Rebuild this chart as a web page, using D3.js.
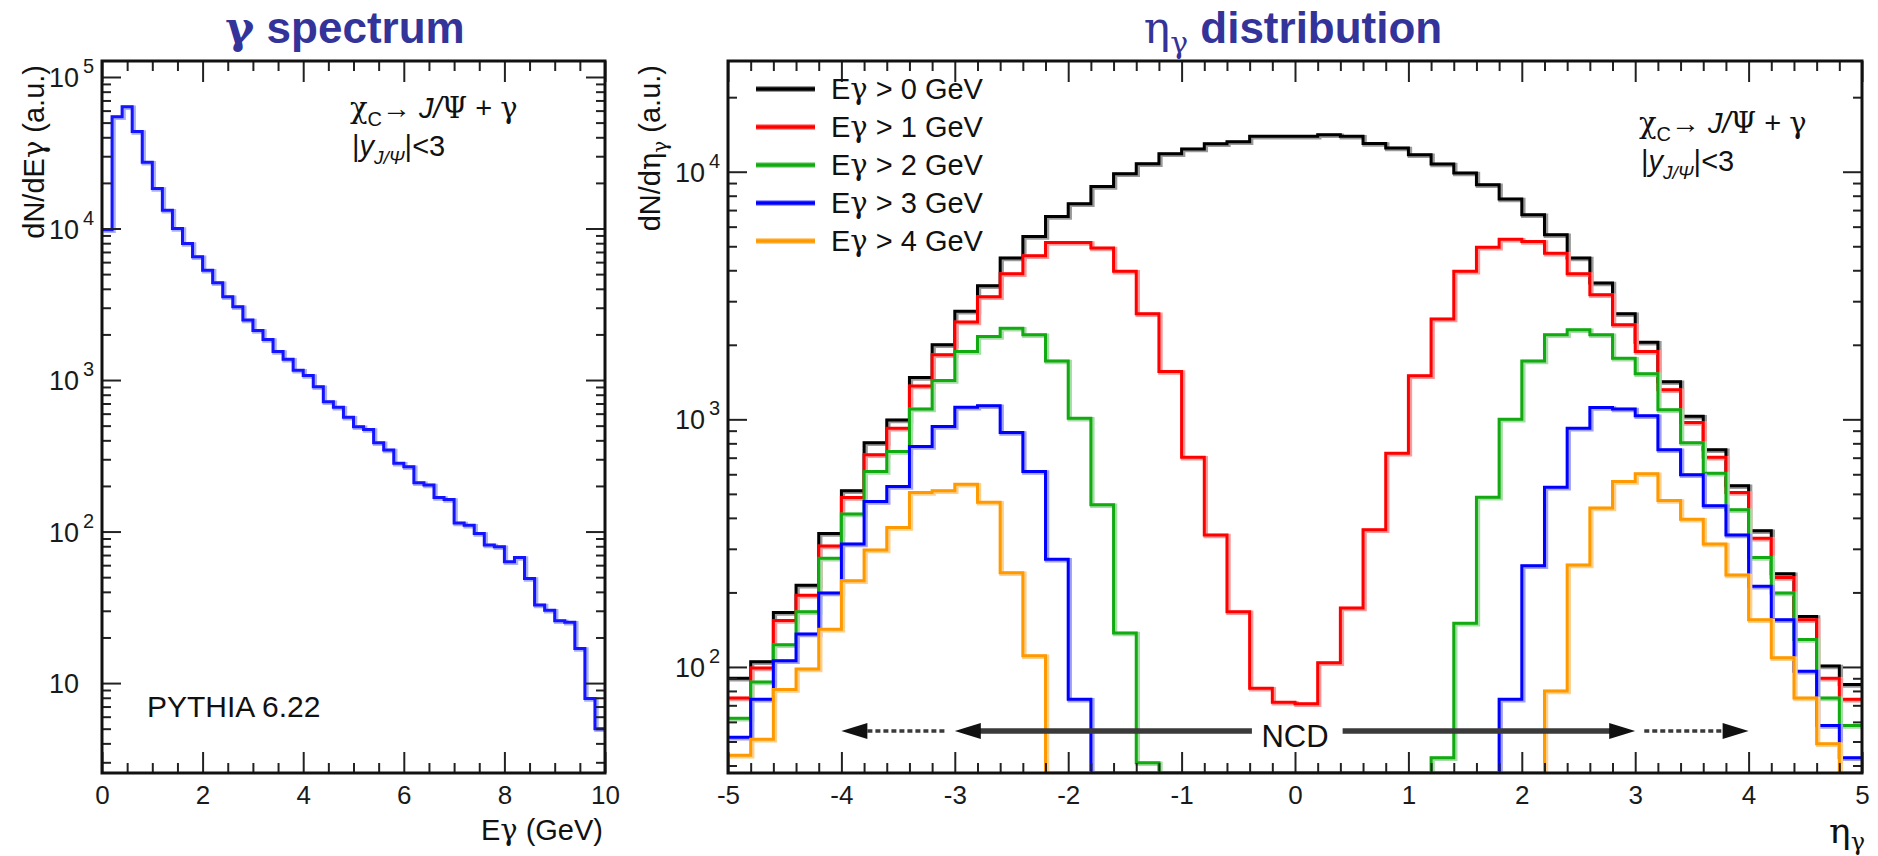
<!DOCTYPE html>
<html>
<head>
<meta charset="utf-8">
<script src="https://cdn.jsdelivr.net/npm/d3@7"></script>
<style>
  body { margin: 0; background: #fff; }
  svg text { font-family: "Liberation Sans", Arial, Helvetica, sans-serif; }
  .gr { font-family: "DejaVu Serif", "Liberation Serif", serif; }
</style>
</head>
<body>
<svg id="chart" width="1878" height="856"></svg>
<script>
// ---------- data ----------
// photon energy spectrum, 0.2 GeV bins from 0 to 10 GeV
const eLow = 0, eBinWidth = 0.2;
const spectrum = [9800, 54700, 63700, 43600, 27400, 18400, 13200, 10000, 7950, 6500,
  5300, 4380, 3540, 3050, 2490, 2120, 1850, 1540, 1370, 1160,
  1070, 904, 719, 661, 567, 492, 472, 386, 345, 282,
  268, 210, 203, 168, 163, 114, 110, 97, 81.5, 79.4,
  63.2, 67.5, 49, 32.7, 30.3, 25.8, 25.2, 16.9, 7.9, 5.0];

// photon pseudorapidity, 0.2 bins from -5 to 5 (0 = empty bin)
const etaLow = -5, etaBinWidth = 0.2;
const etaE0 = [90, 105, 166, 214, 346, 515, 805, 995, 1475, 2000,
  2730, 3460, 4480, 5480, 6600, 7430, 8720, 9820, 10770, 11830,
  12360, 12980, 13200, 13900, 13900, 13900, 14100, 13900, 13000, 12470,
  11720, 10740, 9880, 8860, 7760, 6700, 5560, 4480, 3550, 2670,
  2050, 1420, 1030, 753, 539, 355, 238, 160, 101, 85];
const etaE1 = [75, 99, 154, 195, 308, 483, 719, 921, 1365, 1823,
  2470, 3130, 3870, 4580, 5180, 5180, 4920, 3960, 2670, 1560,
  703, 341, 167, 82, 72, 71, 104, 173, 358, 730,
  1500, 2540, 3960, 4960, 5340, 5230, 4690, 3870, 3185, 2410,
  1880, 1316, 970, 703, 506, 331, 230, 155, 90, 74];
const etaE2 = [62, 87, 123, 167, 275, 415, 615, 741, 1100, 1435,
  1880, 2160, 2335, 2195, 1720, 1010, 452, 137, 41, 0,
  0, 0, 0, 0, 0, 0, 0, 0, 0, 0,
  0, 43, 150, 485, 1000, 1720, 2195, 2300, 2195, 1766,
  1527, 1092, 805, 606, 431, 277, 199, 129, 75, 58];
const etaE3 = [52, 74, 106, 136, 199, 314, 466, 536, 776, 935,
  1120, 1135, 885, 615, 272, 74, 0, 0, 0, 0,
  0, 0, 0, 0, 0, 0, 0, 0, 0, 0,
  0, 0, 0, 0, 74, 256, 532, 921, 1116, 1100,
  1033, 753, 597, 448, 341, 212, 155, 96, 58, 43];
const etaE4 = [44, 51, 81, 98, 142, 223, 297, 366, 506, 515,
  547, 463, 240, 111, 0, 0, 0, 0, 0, 0,
  0, 0, 0, 0, 0, 0, 0, 0, 0, 0,
  0, 0, 0, 0, 0, 0, 80, 258, 438, 561,
  603, 470, 395, 314, 235, 155, 109, 75, 49, 0];

const thresholds = [0, 1, 2, 3, 4];
const eTicks = [0, 2, 4, 6, 8, 10];
const etaTicks = [-5, -4, -3, -2, -1, 0, 1, 2, 3, 4, 5];
const ncdRange = [-3, 3], ncdExtended = [-4, 4];

// ---------- layout ----------
const left = { x0: 102, x1: 605, y0: 61, y1: 773 };
const right = { x0: 728, x1: 1862, y0: 61, y1: 773 };
const titleColor = "#333399";
const lineColors = ["#000000", "#ff0000", "#11aa11", "#0000ff", "#ff9900"];
const ghostColors = ["#9a9a9a", "#ff9a9a", "#a6dca6", "#a0a0ff", "#ffcf8c"];

const svg = d3.select("#chart");

const xE = d3.scaleLinear().domain([0, 10]).range([left.x0, left.x1]);
const yE = d3.scaleLog().domain([2.55, 1.275e5]).range([left.y1, left.y0]).clamp(true);
const xEta = d3.scaleLinear().domain([-5, 5]).range([right.x0, right.x1]);
const yEta = d3.scaleLog().domain([37.3, 2.8e4]).range([right.y1, right.y0]).clamp(true);

function histPath(x, y, lo, w, vals) {
  const pts = vals.map((v, i) => [lo + i * w, v]);
  pts.push([lo + vals.length * w, vals[vals.length - 1]]);
  return d3.line()
    .x(d => x(d[0]))
    .y(d => d[1] > 0 ? y(d[1]) : y.range()[0])
    .curve(d3.curveStepAfter)(pts);
}

function logMajor(y) {
  const [a, b] = y.domain(), out = [];
  for (let e = Math.ceil(Math.log10(a)); e <= Math.floor(Math.log10(b)); e++) out.push(10 ** e);
  return out;
}
function logMinor(y) {
  const [a, b] = y.domain(), out = [];
  for (let e = Math.floor(Math.log10(a)); e <= Math.floor(Math.log10(b)); e++)
    for (let m = 2; m <= 9; m++) { const v = m * 10 ** e; if (v >= a && v <= b) out.push(v); }
  return out;
}

function styleAxis(g) {
  g.select(".domain").remove();
  g.attr("color", "#222").selectAll("line").attr("stroke-width", 2);
}

function drawAxes(box, x, y, xMajor, xStep) {
  const g = svg.append("g");
  const xMinor = d3.range(x.domain()[0], x.domain()[1] + 1e-9, xStep)
    .filter(v => !xMajor.some(m => Math.abs(m - v) < 1e-6));

  g.append("g").attr("transform", `translate(0,${box.y1})`)
    .call(d3.axisBottom(x).tickValues(xMinor).tickSize(-10).tickFormat("")).call(styleAxis);
  g.append("g").attr("transform", `translate(0,${box.y1})`)
    .call(d3.axisBottom(x).tickValues(xMajor).tickSize(-21).tickPadding(13).tickFormat(d => String(d)))
    .call(styleAxis)
    .attr("font-size", 26).attr("font-family", null)
    .selectAll("text").attr("fill", "#1a1a1a");
  g.append("g").attr("transform", `translate(0,${box.y0})`)
    .call(d3.axisTop(x).tickValues(xMinor).tickSize(-10).tickFormat("")).call(styleAxis);
  g.append("g").attr("transform", `translate(0,${box.y0})`)
    .call(d3.axisTop(x).tickValues(xMajor).tickSize(-21).tickFormat("")).call(styleAxis);

  const yMaj = logMajor(y), yMin = logMinor(y);
  g.append("g").attr("transform", `translate(${box.x0},0)`)
    .call(d3.axisLeft(y).tickValues(yMin).tickSize(-9).tickFormat("")).call(styleAxis);
  g.append("g").attr("transform", `translate(${box.x0},0)`)
    .call(d3.axisLeft(y).tickValues(yMaj).tickSize(-19).tickFormat("")).call(styleAxis);
  g.append("g").attr("transform", `translate(${box.x1},0)`)
    .call(d3.axisRight(y).tickValues(yMin).tickSize(-9).tickFormat("")).call(styleAxis);
  g.append("g").attr("transform", `translate(${box.x1},0)`)
    .call(d3.axisRight(y).tickValues(yMaj).tickSize(-19).tickFormat("")).call(styleAxis);

  // log labels: 10, 10^2 ...
  yMaj.forEach(v => {
    const e = Math.round(Math.log10(v));
    g.append("text").attr("x", box.x0 - 23).attr("y", y(v) + 10)
      .attr("text-anchor", "end").attr("font-size", 27).attr("fill", "#1a1a1a").text("10");
    if (e > 1) {
      g.append("text").attr("x", box.x0 - 19).attr("y", y(v) - 4)
        .attr("font-size", 20).attr("fill", "#1a1a1a").text(e);
    }
  });

  g.append("rect").attr("x", box.x0).attr("y", box.y0)
    .attr("width", box.x1 - box.x0).attr("height", box.y1 - box.y0)
    .attr("fill", "none").attr("stroke", "#111").attr("stroke-width", 3);
}

function clipFor(id, box) {
  svg.append("clipPath").attr("id", id).append("rect")
    .attr("x", box.x0).attr("y", box.y0 - 2)
    .attr("width", box.x1 - box.x0).attr("height", box.y1 - box.y0 + 2);
}

// ---------- left panel: gamma spectrum ----------
clipFor("clipL", left);
const gL = svg.append("g").attr("clip-path", "url(#clipL)");
gL.append("path").attr("d", histPath(xE, yE, eLow, eBinWidth, spectrum))
  .attr("fill", "none").attr("stroke", "#a8b0ff").attr("stroke-width", 4.5)
  .attr("transform", "translate(1.5,1)");
gL.append("path").attr("d", histPath(xE, yE, eLow, eBinWidth, spectrum))
  .attr("fill", "none").attr("stroke", "#1414ff").attr("stroke-width", 3);
drawAxes(left, xE, yE, eTicks, 0.5);

const tL = svg.append("text").attr("x", 345).attr("y", 43).attr("text-anchor", "middle")
  .attr("font-size", 44).attr("font-weight", "bold").attr("fill", titleColor);
tL.append("tspan").attr("class", "gr").text("γ");
tL.append("tspan").text(" spectrum");

const yLt = svg.append("text").attr("transform", "translate(44,65) rotate(-90)")
  .attr("text-anchor", "end").attr("font-size", 29).attr("fill", "#111");
yLt.append("tspan").text("dN/dE");
yLt.append("tspan").attr("class", "gr").text("γ");
yLt.append("tspan").text(" (a.u.)");

const xLt = svg.append("text").attr("x", 603).attr("y", 840).attr("text-anchor", "end")
  .attr("font-size", 29).attr("fill", "#111");
xLt.append("tspan").text("E");
xLt.append("tspan").attr("class", "gr").text("γ");
xLt.append("tspan").text(" (GeV)");

svg.append("text").attr("x", 147).attr("y", 717)
  .attr("font-size", 30).attr("fill", "#111").text("PYTHIA 6.22");

function decayLabel(x, y) {
  const t1 = svg.append("text").attr("x", x).attr("y", y).attr("font-size", 29).attr("fill", "#111");
  t1.append("tspan").attr("class", "gr").text("χ");
  t1.append("tspan").attr("font-size", 20).attr("dy", 8).text("C");
  t1.append("tspan").attr("dy", -8).text("→ ");
  t1.append("tspan").attr("font-style", "italic").text("J/");
  t1.append("tspan").attr("class", "gr").text("Ψ");
  t1.append("tspan").text(" + ");
  t1.append("tspan").attr("class", "gr").text("γ");
  const t2 = svg.append("text").attr("x", x + 2).attr("y", y + 38).attr("font-size", 29).attr("fill", "#111");
  t2.append("tspan").text("|");
  t2.append("tspan").attr("font-style", "italic").text("y");
  t2.append("tspan").attr("font-style", "italic").attr("font-size", 19).attr("dy", 8).text("J/Ψ");
  t2.append("tspan").attr("dy", -8).text("|<3");
}
decayLabel(350, 118);

// ---------- right panel: eta distribution ----------
clipFor("clipR", right);
const gR = svg.append("g").attr("clip-path", "url(#clipR)");
const etaSeries = [etaE0, etaE1, etaE2, etaE3, etaE4];
etaSeries.forEach((vals, i) => {
  gR.append("path").attr("d", histPath(xEta, yEta, etaLow, etaBinWidth, vals))
    .attr("fill", "none").attr("stroke", ghostColors[i]).attr("stroke-width", 4.5)
    .attr("transform", "translate(1.5,1)");
  gR.append("path").attr("d", histPath(xEta, yEta, etaLow, etaBinWidth, vals))
    .attr("fill", "none").attr("stroke", lineColors[i]).attr("stroke-width", 3);
});

// NCD acceptance arrows
const arrowY = 731;
const arrows = svg.append("g");
const headL = 26, headH = 8;
function head(tipX, dir) {
  arrows.append("path")
    .attr("d", `M${tipX},${arrowY} L${tipX + dir * headL},${arrowY - headH} L${tipX + dir * headL},${arrowY + headH} Z`)
    .attr("fill", "#111");
}
const xa = xEta(ncdRange[0]), xb = xEta(ncdRange[1]);
arrows.append("line").attr("x1", xa + headL - 2).attr("x2", xEta(-0.38)).attr("y1", arrowY).attr("y2", arrowY)
  .attr("stroke", "#3a3a3a").attr("stroke-width", 5.5);
arrows.append("line").attr("x1", xEta(0.42)).attr("x2", xb - headL + 2).attr("y1", arrowY).attr("y2", arrowY)
  .attr("stroke", "#3a3a3a").attr("stroke-width", 5.5);
head(xa, 1); head(xb, -1);
const xc = xEta(ncdExtended[0]), xd = xEta(ncdExtended[1]);
arrows.append("line").attr("x1", xc + headL).attr("x2", xEta(-3.08)).attr("y1", arrowY).attr("y2", arrowY)
  .attr("stroke", "#3a3a3a").attr("stroke-width", 3.5).attr("stroke-dasharray", "5,3");
arrows.append("line").attr("x1", xEta(3.08)).attr("x2", xd - headL).attr("y1", arrowY).attr("y2", arrowY)
  .attr("stroke", "#3a3a3a").attr("stroke-width", 3.5).attr("stroke-dasharray", "5,3");
head(xc, 1); head(xd, -1);
svg.append("text").attr("x", xEta(0.0)).attr("y", arrowY + 16).attr("text-anchor", "middle")
  .attr("font-size", 31).attr("fill", "#111").text("NCD");

drawAxes(right, xEta, yEta, etaTicks, 0.2);

const tR = svg.append("text").attr("x", 1293).attr("y", 43).attr("text-anchor", "middle")
  .attr("font-size", 44).attr("font-weight", "bold").attr("fill", titleColor);
tR.append("tspan").attr("class", "gr").attr("font-weight", "normal").text("η");
tR.append("tspan").attr("class", "gr").attr("font-weight", "normal").attr("font-size", 30).attr("dy", 10).text("γ");
tR.append("tspan").attr("dy", -10).text(" distribution");

const yR = svg.append("text").attr("transform", "translate(660,65) rotate(-90)")
  .attr("text-anchor", "end").attr("font-size", 29).attr("fill", "#111");
yR.append("tspan").text("dN/d");
yR.append("tspan").attr("class", "gr").text("η");
yR.append("tspan").attr("class", "gr").attr("font-size", 20).attr("dy", 7).text("γ");
yR.append("tspan").attr("dy", -7).text(" (a.u.)");

const xR = svg.append("text").attr("x", 1865).attr("y", 843).attr("text-anchor", "end")
  .attr("font-size", 36).attr("fill", "#111");
xR.append("tspan").attr("class", "gr").text("η");
xR.append("tspan").attr("class", "gr").attr("font-size", 24).attr("dy", 7).text("γ");

decayLabel(1639, 133);

// legend
const legend = svg.append("g");
thresholds.forEach((t, i) => {
  const ly = 89 + i * 38;
  legend.append("line").attr("x1", 756).attr("x2", 815).attr("y1", ly).attr("y2", ly)
    .attr("stroke", ghostColors[i]).attr("stroke-width", 6);
  legend.append("line").attr("x1", 756).attr("x2", 815).attr("y1", ly).attr("y2", ly)
    .attr("stroke", lineColors[i]).attr("stroke-width", 3.5);
  const lt = legend.append("text").attr("x", 831).attr("y", ly + 10)
    .attr("font-size", 29).attr("fill", "#111");
  lt.append("tspan").text("E");
  lt.append("tspan").attr("class", "gr").text("γ");
  lt.append("tspan").text(` > ${t} GeV`);
});
</script>
</body>
</html>
